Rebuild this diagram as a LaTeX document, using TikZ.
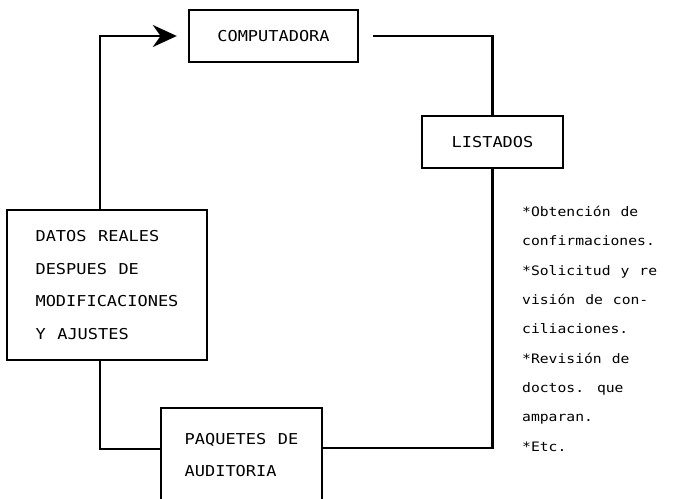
\documentclass[tikz,border=0pt]{standalone}
\usepackage{fontspec}
\usetikzlibrary{arrows.meta, positioning}
\newfontfamily\plotfont[FakeStretch=1.13, WordSpace=1.13]{DejaVu Sans Mono}

\begin{document}
\begin{tikzpicture}[x=1pt, y=-1pt,
    box/.style={draw, line width=2.4pt, font=\plotfont\fontsize{15}{32.5}\selectfont, inner sep=0pt},
    wire/.style={line width=2.4pt}]
            \useasboundingbox (0,0) rectangle (687,498);

            % Boxes
            \node[box, minimum width=169pt, minimum height=52pt] (comp) at (273.5, 36) {COMPUTADORA};
            \node[box, minimum width=141pt, minimum height=52pt] (list) at (492.5, 142) {LISTADOS};
            \node[box, minimum width=200pt, minimum height=150pt, align=left] (datos) at (107, 285)
                {DATOS REALES\\DESPUES DE\\MODIFICACIONES\\Y AJUSTES};
            \node[box, minimum width=161pt, minimum height=94pt, align=left, xshift=0pt] (paq) at (241.5, 455)
                {PAQUETES DE\\AUDITORIA};

            % Notes on the right
            \node[anchor=north west, align=left, inner sep=0pt,
                  font=\plotfont\fontsize{13}{29.3}\selectfont] (notas) at (522, 206)
                {*Obtención de\\confirmaciones.\\*Solicitud y re\\visión de con-\\ciliaciones.\\*Revisión de\\doctos. que\\amparan.\\*Etc.};

            % Corner points
            \coordinate (izq) at (100, 33);
            \coordinate (pder) at (322, 448);
            \coordinate (pizq) at (161, 449);

            % Connectors
            \draw[wire, -{Stealth[length=24pt, width=22pt]}, shorten >=11pt] (datos.north -| izq) |- (comp.west);
            \draw[wire, shorten <=14pt] (comp.east) -| (list.north);
            \draw[wire] (list.south) |- (pder);
            \draw[wire] (datos.south -| izq) |- (pizq);
        \end{tikzpicture}
\end{document}
